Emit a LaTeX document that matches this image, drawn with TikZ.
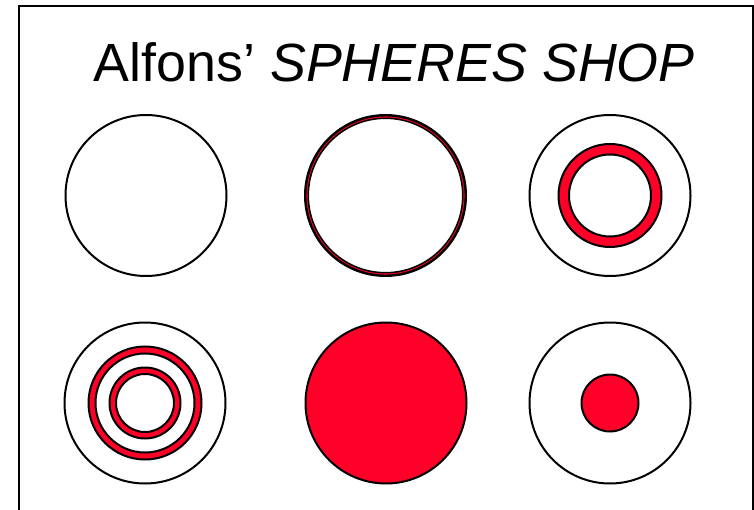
\documentclass[tikz,border=0pt]{standalone}
\usepackage{fontspec}
\setmainfont{Liberation Sans}
\definecolor{sred}{RGB}{255,0,40}
\begin{document}
\begin{tikzpicture}[x=1pt,y=-1pt,
  outline/.style={draw=black,line width=2pt,fill=white},
  ring/.style={draw=black,line width=2pt,fill=sred,even odd rule},
  dot/.style={draw=black,line width=2pt,fill=sred}]
\useasboundingbox (0,0) rectangle (754,510);
\fill[white] (0,0) rectangle (754,510);
\begin{scope}
\clip (0,0) rectangle (754,510);
\draw[line width=2pt] (18.5,6) rectangle (752.5,530);
\end{scope}
\node[anchor=base west,inner sep=0pt,font=\fontsize{53.8}{60}\selectfont] (title) at (93.5,81.5) {Alfons’ \textit{SPHERES SHOP}};
% centres
\coordinate (c1) at (146,195.5);
\coordinate (c2) at (385.5,195.5);
\coordinate (c3) at (610,195.5);
\coordinate (c4) at (145,403);
\coordinate (c5) at (386,403);
\coordinate (c6) at (610,403);
% sphere 1
\draw[outline] (c1) circle (80.5);
% sphere 2
\draw[outline] (c2) circle (80.5);
\draw[draw=black,line width=1.5pt,fill=sred,even odd rule] (c2) circle (79.8) (c2) circle (77.2);
% sphere 3
\draw[outline] (c3) circle (80.5);
\draw[ring] (c3) circle (51.5) (c3) circle (41);
% sphere 4
\draw[outline] (c4) circle (80.5);
\draw[ring] (c4) circle (56.5) (c4) circle (49.5);
\draw[ring] (c4) circle (35.5) (c4) circle (29);
% sphere 5
\draw[dot] (c5) circle (80.5);
% sphere 6
\draw[outline] (c6) circle (80.5);
\draw[dot] (c6) circle (28.5);
\end{tikzpicture}
\end{document}
